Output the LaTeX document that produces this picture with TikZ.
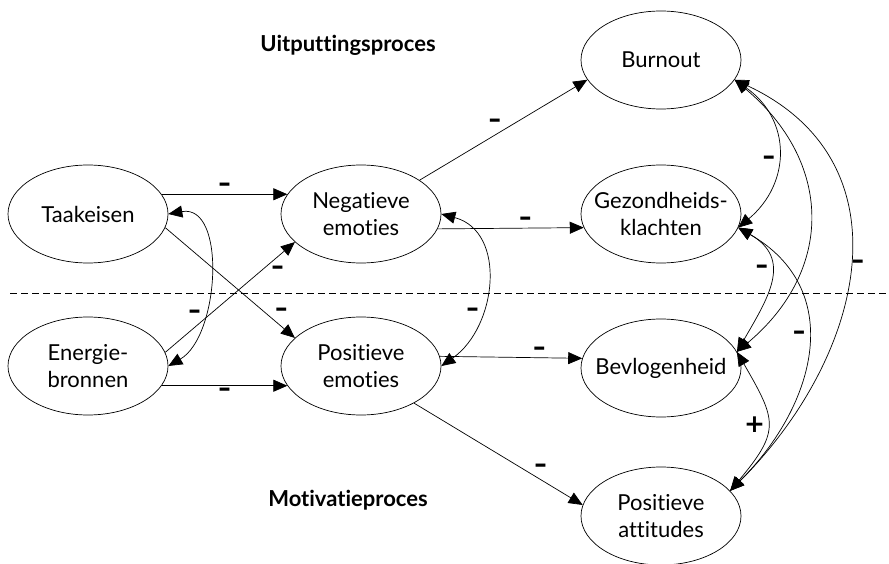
\documentclass[tikz,border=0pt]{standalone}
\usepackage{fontspec}
\setmainfont{Lato}[Ligatures={NoCommon}]
\newfontfamily\signfont{DejaVu Sans}
\usetikzlibrary{shapes,arrows.meta}

\begin{document}
\begin{tikzpicture}[x=1pt,y=1pt]
    \tikzstyle{construct}=[ellipse, draw, line width=0.7pt, minimum width=160pt, minimum height=98pt, inner xsep=-30pt, inner ysep=-12pt, align=center, font=\fontsize{22}{27}\selectfont]
    \tikzstyle{proces}=[font=\bfseries\fontsize{22}{24}\selectfont]
    \tikzstyle{sign}=[font=\signfont\bfseries\fontsize{25}{25}\selectfont, inner sep=2pt]
    \tikzstyle{effect}=[-{Triangle[length=14pt,width=12pt]}, line width=0.7pt]
    \tikzstyle{corr}=[{Triangle[length=14pt,width=12pt]}-{Triangle[length=14pt,width=12pt]}, line width=0.7pt]
    \useasboundingbox (0,0) rectangle (889,-564);

    \node[construct] (taak) at (88,-214) {Taakeisen};
    \node[construct] (energie) at (88,-366) {Energie-\\bronnen};
    \node[construct] (neg) at (361,-214) {Negatieve\\emoties};
    \node[construct] (pos) at (361,-366) {Positieve\\emoties};
    \node[construct] (burn) at (661,-60) {Burnout};
    \node[construct] (gez) at (661,-214) {Gezondheids-\\klachten};
    \node[construct] (bev) at (661,-368) {Bevlogenheid};
    \node[construct] (att) at (661,-516) {Positieve\\attitudes};

    \node[proces] (uitput) at (348,-45) {Uitputtingsproces};
    \node[proces] (motiv) at (348,-500) {Motivatieproces};

    % scheiding tussen de twee processen
    \draw[dash pattern=on 7pt off 4pt, line width=0.7pt] (10,-293) -- (889,-293);

    % links
    \draw[effect] (taak.15) -- node[sign,above] {–} (neg.165);
    \draw[effect] (energie.-15) -- node[sign,below] {–} (pos.195);
    \draw[effect] (taak.-10) -- node[sign,above right,pos=0.83] {–} (pos.157);
    \draw[effect] (energie.10) -- node[sign,below right,pos=0.8] {–} (neg.203);
    \draw[corr] (taak.east) to[out=10,in=30] node[sign,left,pos=0.68] {–} (energie.east);

    % midden
    \draw[corr] (neg.east) to[out=-15,in=35,looseness=1.15] node[sign,left,pos=0.66] {–} (pos.east);
    \draw[effect] (neg.30) -- node[sign,above left,pos=0.5] {–} (burn.195);
    \draw[effect] (neg.-11) -- node[sign,above,pos=0.6] {–} (gez.190);
    \draw[effect] (pos.7) -- node[sign,above,pos=0.7] {–} (bev.173);
    \draw[effect] (pos.-35) -- node[sign,above right,pos=0.7] {–} (att.172);

    % rechts
    \draw[corr] (burn.-15) to[out=-35,in=40,looseness=1.2] node[sign,left,pos=0.55] {–} (gez.-10);
    \draw[corr] (burn.-15) to[out=-40,in=40,looseness=1.2] (bev.12);
    \draw[corr] (burn.-15) to[out=-25,in=45,looseness=1.2] node[sign,right,pos=0.5] {–} (att.20);
    \draw[corr] (gez.-10) to[out=-30,in=60,looseness=1.3] node[sign,left,pos=0.4] {–} (bev.12);
    \draw[corr] (gez.-10) to[out=-30,in=45,looseness=1.2] node[sign,left,pos=0.45] {–} (att.20);
    \draw[corr] (bev.12) to[out=-60,in=50,looseness=1.45] node[sign,left] {+} (att.20);
\end{tikzpicture}
\end{document}
